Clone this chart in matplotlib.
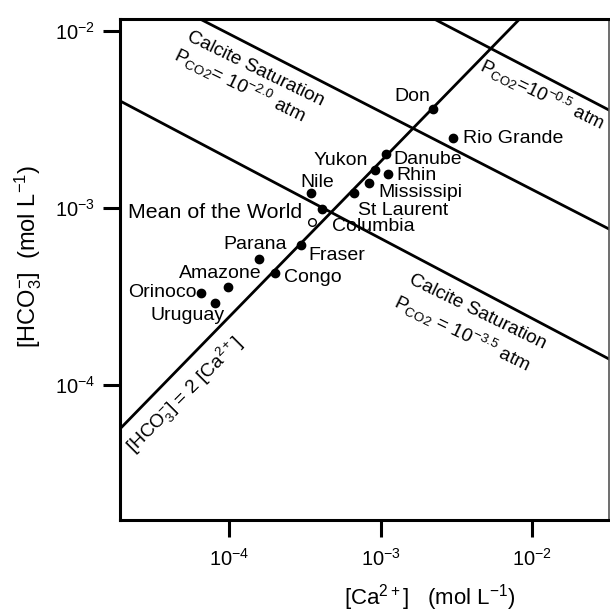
import matplotlib
matplotlib.use("Agg")
import matplotlib.pyplot as plt
from matplotlib.ticker import FixedLocator, NullLocator

plt.rcParams['font.family'] = ['Liberation Sans', 'DejaVu Sans']
plt.rcParams['mathtext.fontset'] = 'custom'
plt.rcParams['mathtext.rm'] = 'Liberation Sans'
plt.rcParams['mathtext.it'] = 'Liberation Sans:italic'
plt.rcParams['mathtext.default'] = 'regular'

# river waters, mol/L
rivers = ["Don", "Rio Grande", "Danube", "Yukon", "Rhin", "Mississipi",
          "St Laurent", "Nile", "Columbia", "Fraser", "Congo", "Parana",
          "Amazone", "Orinoco", "Uruguay"]
ca = [2.215e-3, 3.00e-3, 1.084e-3, 9.18e-4, 1.118e-3, 8.38e-4,
      6.67e-4, 3.47e-4, 4.10e-4, 2.98e-4, 2.007e-4, 1.573e-4,
      9.82e-5, 6.52e-5, 8.06e-5]
hco3 = [3.61e-3, 2.475e-3, 2.01e-3, 1.63e-3, 1.55e-3, 1.378e-3,
        1.21e-3, 1.21e-3, 9.83e-4, 6.15e-4, 4.27e-4, 5.13e-4,
        3.56e-4, 3.30e-4, 2.89e-4]

world_ca = 3.52e-4
world_hco3 = 8.30e-4

# reference lines (end points)
eq_ca = [1.82e-5, 8.8e-3]
eq_hco3 = [5.41e-5, 1.23e-2]
sat20_ca = [5.71e-5, 3.52e-2]
sat20_hco3 = [1.226e-2, 7.28e-4]
sat35_ca = [1.764e-5, 3.52e-2]
sat35_hco3 = [4.15e-3, 1.34e-4]
sat05_ca = [2.007e-3, 3.52e-2]
sat05_hco3 = [1.226e-2, 3.42e-3]

ticks = [1e-4, 1e-3, 1e-2]
tick_labels = ['10$^{-4}$', '10$^{-3}$', '10$^{-2}$']

# label placement: offset in pixels from the dot, alignment
label_pos = {
    "Don": (-21, 12, 'center'),
    "Rio Grande": (10, 0, 'left'),
    "Danube": (7, -6, 'left'),
    "Yukon": (-7, 10, 'right'),
    "Rhin": (8, -2, 'left'),
    "Mississipi": (9, -9, 'left'),
    "St Laurent": (4, -17, 'left'),
    "Nile": (6, 11, 'center'),
    "Columbia": (10, -18, 'left'),
    "Fraser": (7, -10, 'left'),
    "Congo": (9, -4, 'left'),
    "Parana": (-4, 14, 'center'),
    "Amazone": (-8, 14, 'center'),
    "Orinoco": (-4, 0, 'right'),
    "Uruguay": (-27, -12, 'center'),
}

fig = plt.figure(figsize=(6.1, 6.15), dpi=100)
ax = fig.add_axes([120/610, 95/615, 489/610, 501/615])
ax.set_xscale('log')
ax.set_yscale('log')
ax.set_xlim(1.903e-5, 3.215e-2)
ax.set_ylim(1.719e-5, 1.164e-2)

lw = 2.0
ax.plot(eq_ca, eq_hco3, color='k', lw=lw)
ax.plot(sat20_ca, sat20_hco3, color='k', lw=lw)
ax.plot(sat35_ca, sat35_hco3, color='k', lw=lw)
ax.plot(sat05_ca, sat05_hco3, color='k', lw=lw)

ax.plot(ca, hco3, 'o', color='k', ms=6, zorder=3)
ax.plot([world_ca], [world_hco3], 'o', mfc='white', mec='k', mew=1.0, ms=5.5, zorder=3)

for name, x, y in zip(rivers, ca, hco3):
    dx, dy, ha = label_pos[name]
    ax.annotate(name, (x, y), xytext=(dx, dy), textcoords='offset pixels',
                ha=ha, va='center', fontsize=14)
ax.annotate("Mean of the World", (world_ca, world_hco3), xytext=(-10, 9),
            textcoords='offset pixels', ha='right', va='center', fontsize=15.4)

# rotated line labels
rot = -26
ax.text(1.503e-4, 6.07e-3, "Calcite Saturation", rotation=rot, rotation_mode='anchor',
        ha='center', va='center', fontsize=13.8)
ax.text(1.179e-4, 4.93e-3, "P$_{CO2}$= 10$^{-2.0}$ atm", rotation=rot, rotation_mode='anchor',
        ha='center', va='center', fontsize=13.8)
ax.text(4.39e-3, 2.574e-4, "Calcite Saturation", rotation=rot, rotation_mode='anchor',
        ha='center', va='center', fontsize=13.8)
ax.text(3.44e-3, 1.957e-4, "P$_{CO2}$ = 10$^{-3.5}$ atm", rotation=rot, rotation_mode='anchor',
        ha='center', va='center', fontsize=13.8)
ax.text(1.17e-2, 4.35e-3, "P$_{CO2}$=10$^{-0.5}$ atm", rotation=rot, rotation_mode='anchor',
        ha='center', va='center', fontsize=13.5)
ax.text(5.11e-5, 8.74e-5, "[HCO$_3^{-}$] = 2 [Ca$^{2+}$]", rotation=45, rotation_mode='anchor',
        ha='center', va='center', fontsize=13.8)

# axes styling
for side in ['left', 'bottom', 'top']:
    ax.spines[side].set_linewidth(2.2)
ax.spines['right'].set_linewidth(1.2)
ax.spines['right'].set_color('#555555')

ax.xaxis.set_major_locator(FixedLocator(ticks))
ax.yaxis.set_major_locator(FixedLocator(ticks))
ax.xaxis.set_minor_locator(NullLocator())
ax.yaxis.set_minor_locator(NullLocator())
ax.set_xticklabels(tick_labels)
ax.set_yticklabels(tick_labels)
ax.tick_params(axis='both', which='major', direction='out', length=12, width=2.2,
               labelsize=14.5)
ax.tick_params(axis='x', pad=8)
ax.tick_params(axis='y', pad=6)

fig.text(430/610, 1 - 598/615, "[Ca$^{2+}$]   (mol L$^{-1}$)", ha='center', va='center',
         fontsize=16)
fig.text(28/610, 1 - 256/615, "[HCO$_3^{-}$]  (mol L$^{-1}$)", ha='center', va='center',
         rotation=90, fontsize=17)

fig.savefig("out.png", dpi=100)
